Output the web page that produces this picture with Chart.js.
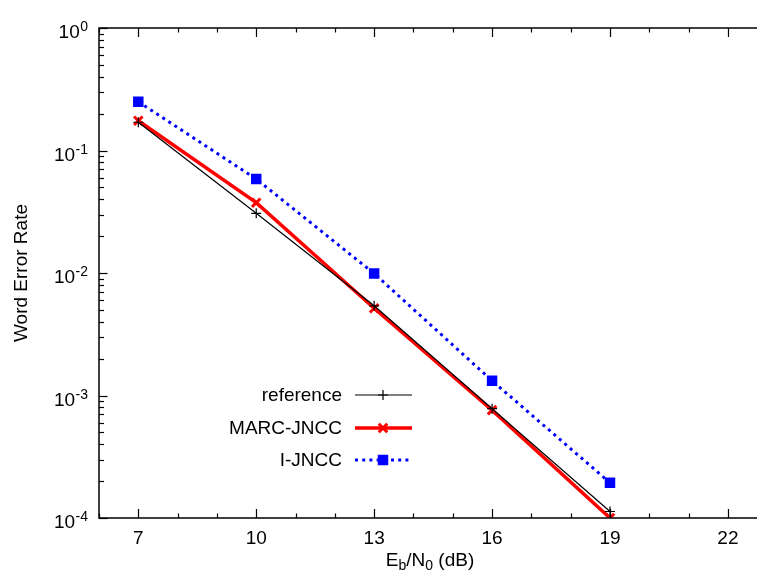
<!DOCTYPE html>
<html>
<head>
<meta charset="utf-8">
<script src="https://cdn.jsdelivr.net/npm/chart.js@4.4.0/dist/chart.umd.min.js"></script>
<style>
  html, body { margin: 0; padding: 0; background: #fff; }
  #wrap { width: 757px; height: 578px; }
</style>
</head>
<body>
<div id="wrap"><canvas id="chart" width="757" height="578"></canvas></div>
<script>
// values
var snrDb = [7, 10, 13, 16, 19];
var referenceWer = [0.17, 0.0307, 0.0054, 0.00078, 0.000113];
var marcJnccWer = [0.175, 0.0375, 0.00515, 0.00076, 0.0001];
var iJnccWer = [0.25, 0.0585, 0.0099, 0.00132, 0.000194];

var xTickLabels = [7, 10, 13, 16, 19, 22];
var yDecades = [0, -1, -2, -3, -4];

var FONT = '"Liberation Sans", Arial, Helvetica, sans-serif';

function points(ys) {
	return snrDb.map(function (x, i) { return { x: x, y: ys[i] }; });
}

// legend marker with the dataset's own colours
function legendPoint(ctx, ds, x, y) {
	ctx.save();
	ctx.strokeStyle = ds.pointBorderColor;
	ctx.fillStyle = ds.pointBackgroundColor || ds.pointBorderColor;
	ctx.lineWidth = ds.pointBorderWidth;
	ctx.setLineDash([]);
	Chart.helpers.drawPoint(ctx, {
		pointStyle: ds.pointStyle,
		radius: ds.pointRadius,
		borderWidth: ds.pointBorderWidth,
		rotation: 0
	}, x, y);
	ctx.restore();
}

// gnuplot-like frame, inward ticks, labels and legend
var gnuplotDecor = {
	id: "gnuplotDecor",
	afterDraw: function (chart) {
		var ctx = chart.ctx;
		var ca = chart.chartArea;
		var xs = chart.scales.x;
		var ys = chart.scales.y;

		ctx.save();
		ctx.strokeStyle = "#000";
		ctx.lineWidth = 1.5;
		ctx.beginPath();
		ctx.moveTo(ca.right + 2, ca.top);
		ctx.lineTo(ca.left, ca.top);
		ctx.lineTo(ca.left, ca.bottom);
		ctx.lineTo(ca.right + 2, ca.bottom);
		ctx.stroke();

		ctx.lineWidth = 1.2;
		for (var v = 6; v <= 22; v++) {
			var px = Math.round(xs.getPixelForValue(v)) + 0.5;
			var len = xTickLabels.indexOf(v) >= 0 ? 9 : 4.5;
			ctx.beginPath();
			ctx.moveTo(px, ca.bottom);
			ctx.lineTo(px, ca.bottom - len);
			ctx.moveTo(px, ca.top);
			ctx.lineTo(px, ca.top + len);
			ctx.stroke();
		}
		yDecades.forEach(function (e) {
			for (var m = 1; m <= 9; m++) {
				var val = m * Math.pow(10, e);
				if (val > 1.0001) continue;
				var py = Math.round(ys.getPixelForValue(val)) + 0.5;
				var len = m == 1 ? 8.5 : 5;
				ctx.beginPath();
				ctx.moveTo(ca.left, py);
				ctx.lineTo(ca.left + len, py);
				ctx.stroke();
			}
		});

		// tick labels
		ctx.fillStyle = "#000";
		ctx.font = "19px " + FONT;
		ctx.textAlign = "center";
		ctx.textBaseline = "alphabetic";
		xTickLabels.forEach(function (v) {
			ctx.fillText(String(v), xs.getPixelForValue(v), ca.bottom + 26);
		});
		yDecades.forEach(function (e) {
			var py = ys.getPixelForValue(Math.pow(10, e));
			var sup = String(e);
			ctx.font = "14px " + FONT;
			var supW = ctx.measureText(sup).width;
			ctx.textAlign = "right";
			ctx.fillText(sup, 88, py + 3);
			ctx.font = "19px " + FONT;
			ctx.fillText("10", 88 - supW - 0.5, py + 10);
		});

		// axis titles
		ctx.save();
		ctx.translate(27, (ca.top + ca.bottom) / 2);
		ctx.rotate(-Math.PI / 2);
		ctx.textAlign = "center";
		ctx.font = "19px " + FONT;
		ctx.fillText("Word Error Rate", 0, 0);
		ctx.restore();

		var parts = [
			["E", 19, 0], ["b", 14, 4], ["/N", 19, 0], ["0", 14, 4], [" (dB)", 19, 0]
		];
		var total = 0;
		parts.forEach(function (p) {
			ctx.font = p[1] + "px " + FONT;
			p.push(ctx.measureText(p[0]).width);
			total += p[3];
		});
		var cx = (ca.left + ca.right) / 2 - total / 2 + 2;
		ctx.textAlign = "left";
		parts.forEach(function (p) {
			ctx.font = p[1] + "px " + FONT;
			ctx.fillText(p[0], cx, 565.5 + p[2]);
			cx += p[3];
		});

		// legend
		var rowY = [395, 428, 460];
		chart.data.datasets.forEach(function (ds, i) {
			var y = rowY[i];
			ctx.font = "19px " + FONT;
			ctx.textAlign = "right";
			ctx.textBaseline = "middle";
			ctx.fillStyle = "#000";
			ctx.fillText(ds.label, 342, y + 1);
			ctx.save();
			ctx.strokeStyle = ds.borderColor;
			ctx.lineWidth = ds.borderWidth;
			ctx.setLineDash(ds.borderDash || []);
			ctx.beginPath();
			ctx.moveTo(355, y);
			ctx.lineTo(412, y);
			ctx.stroke();
			ctx.restore();
			legendPoint(ctx, ds, 383, y);
		});
		ctx.restore();
	}
};

var canvas = document.getElementById("chart");
var context = canvas.getContext("2d");

var config = {
	type: "line",
	data: {
		datasets: [
			{
				label: "reference",
				data: points(referenceWer),
				borderColor: "#000000",
				backgroundColor: "#000000",
				borderWidth: 1.2,
				pointStyle: "cross",
				pointRadius: 5,
				pointBorderWidth: 1.2,
				pointBorderColor: "#000000",
				clip: 0,
				order: 1
			},
			{
				label: "MARC-JNCC",
				data: points(marcJnccWer),
				borderColor: "#ff0000",
				backgroundColor: "#ff0000",
				borderWidth: 3.5,
				pointStyle: "crossRot",
				pointRadius: 6,
				pointBorderWidth: 3,
				pointBorderColor: "#ff0000",
				clip: 0,
				order: 2
			},
			{
				label: "I-JNCC",
				data: points(iJnccWer),
				borderColor: "#0000ff",
				backgroundColor: "#0000ff",
				borderWidth: 3,
				borderDash: [3, 4.2],
				pointStyle: "rect",
				pointRadius: 6,
				pointBorderWidth: 2,
				pointBorderColor: "#0000ff",
				pointBackgroundColor: "#0000ff",
				clip: 0,
				order: 3
			}
		]
	},
	options: {
		responsive: false,
		animation: false,
		devicePixelRatio: 1,
		layout: { autoPadding: false, padding: { left: 99, top: 28, right: 0, bottom: 60 } },
		elements: { line: { tension: 0, borderCapStyle: "butt" } },
		scales: {
			x: { type: "linear", min: 6, max: 22.74, display: false },
			y: { type: "logarithmic", min: 0.0001, max: 1, display: false }
		},
		plugins: {
			legend: { display: false },
			tooltip: { enabled: false }
		}
	},
	plugins: [gnuplotDecor]
};

var newChart = new Chart(context, config);
canvas.chart = newChart;
</script>
</body>
</html>
